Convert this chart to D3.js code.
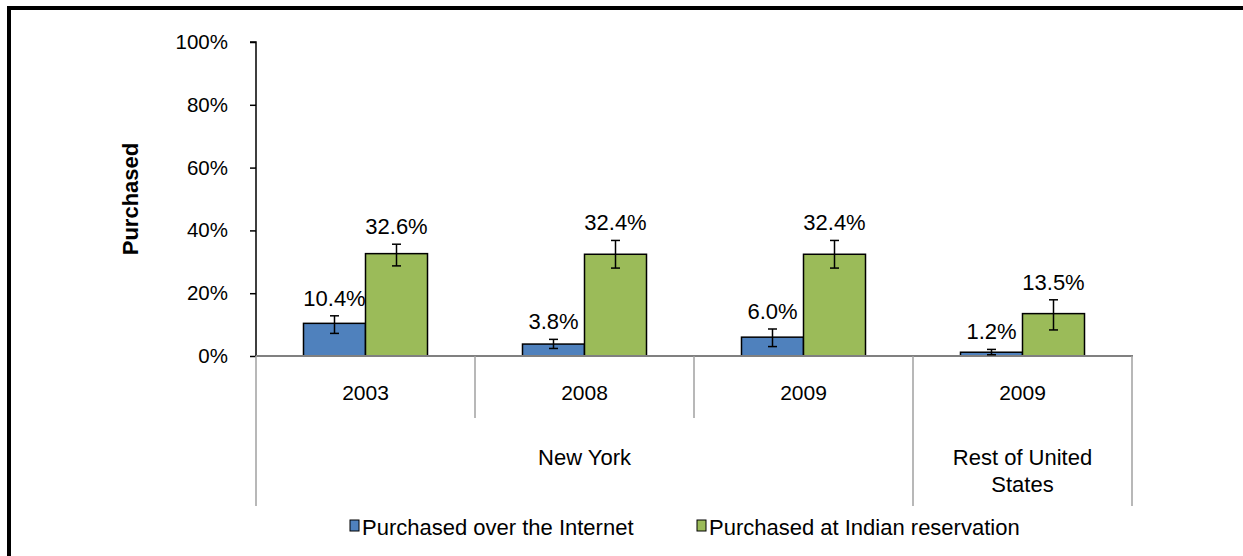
<!DOCTYPE html>
<html><head><meta charset="utf-8">
<script src="https://cdn.jsdelivr.net/npm/d3@7"></script>
<style>
html,body{margin:0;padding:0;background:#fff;}
svg{display:block;font-family:"Liberation Sans",Arial,sans-serif;}
</style></head>
<body>
<svg id="chart" width="1243" height="556"></svg>
<script>
// ---- data ----
const categories = ["2003", "2008", "2009", "2009"];
const regions = ["New York", "Rest of United States"];
const regionSpans = [3, 1];
const seriesNames = ["Purchased over the Internet", "Purchased at Indian reservation"];
const internet = [10.4, 3.8, 6.0, 1.2];
const internetLow = [7.2, 2.4, 3.0, 0.4];
const internetHigh = [12.8, 5.3, 8.6, 2.1];
const reservation = [32.6, 32.4, 32.4, 13.5];
const reservationLow = [28.7, 28.0, 28.0, 8.3];
const reservationHigh = [35.6, 36.8, 36.8, 17.9];
const yTicks = [0, 20, 40, 60, 80, 100];

(function () {
const colors = ["#4F81BD", "#9BBB59"];
const svg = d3.select("#chart");

// frame
svg.append("rect").attr("x", 9).attr("y", 8).attr("width", 1300).attr("height", 600)
  .attr("fill", "none").attr("stroke", "#000").attr("stroke-width", 4);

const pLeft = 256, pRight = 1132, pTop = 42, base = 356;
const x0 = d3.scaleBand().domain(d3.range(categories.length)).range([pLeft, pRight]).padding(0);
const x1 = d3.scaleBand().domain([0, 1]).range([0, x0.bandwidth()]).paddingInner(0).paddingOuter(0.766);
const y = d3.scaleLinear().domain([0, 100]).range([base, pTop]);

// y axis
const yAxis = d3.axisLeft(y).tickValues(yTicks).tickSize(6).tickPadding(22).tickFormat(d => d + "%");
const ya = svg.append("g").attr("transform", `translate(${pLeft},0)`).call(yAxis);
ya.select(".domain").attr("stroke", "#000").attr("stroke-width", 1.5).attr("d", `M-6,${pTop}H0V${base}`);
ya.selectAll(".tick line").attr("stroke", "#000").attr("stroke-width", 1.5);
ya.selectAll(".tick text").attr("font-size", 20.5).attr("fill", "#000").attr("font-family", "Liberation Sans, Arial, sans-serif");

// y title
svg.append("text").attr("transform", `translate(138,${(pTop + base) / 2}) rotate(-90)`)
  .attr("text-anchor", "middle").attr("font-weight", "bold").attr("font-size", 22).text("Purchased");

// bars
const series = [
  { vals: internet, lo: internetLow, hi: internetHigh },
  { vals: reservation, lo: reservationLow, hi: reservationHigh }
];
series.forEach((s, si) => {
  const g = svg.append("g");
  g.selectAll("rect").data(s.vals).join("rect")
    .attr("x", (d, i) => x0(i) + x1(si))
    .attr("y", d => y(d))
    .attr("width", x1.bandwidth())
    .attr("height", d => base - y(d))
    .attr("fill", colors[si]).attr("stroke", "#000").attr("stroke-width", 1.5);
});

// baseline
svg.append("line").attr("x1", pLeft).attr("x2", pRight + 1).attr("y1", base).attr("y2", base)
  .attr("stroke", "#808080").attr("stroke-width", 2);

// error bars and labels
series.forEach((s, si) => {
  const g = svg.append("g");
  s.vals.forEach((v, i) => {
    const cx = x0(i) + x1(si) + x1.bandwidth() / 2;
    g.append("line").attr("x1", cx).attr("x2", cx).attr("y1", y(s.lo[i])).attr("y2", y(s.hi[i]))
      .attr("stroke", "#000").attr("stroke-width", 1.5);
    [s.lo[i], s.hi[i]].forEach(e => {
      g.append("line").attr("x1", cx - 4.5).attr("x2", cx + 4.5).attr("y1", y(e)).attr("y2", y(e))
        .attr("stroke", "#000").attr("stroke-width", 1.5);
    });
    g.append("text").attr("x", cx).attr("y", y(s.hi[i]) - 10).attr("text-anchor", "middle")
      .attr("font-size", 22).attr("fill", "#000").text(v.toFixed(1) + "%");
  });
});

// dividers
const catEdges = d3.range(categories.length + 1).map(i => i < categories.length ? x0(i) : pRight);
let cum = 0;
const longEdges = new Set([0]);
regionSpans.forEach(sp => { cum += sp; longEdges.add(cum); });
catEdges.forEach((xe, i) => {
  svg.append("line").attr("x1", xe).attr("x2", xe).attr("y1", base)
    .attr("y2", longEdges.has(i) ? 506 : 418)
    .attr("stroke", "#A0A0A0").attr("stroke-width", 1.5);
});

// category labels
svg.append("g").selectAll("text").data(categories).join("text")
  .attr("x", (d, i) => x0(i) + x0.bandwidth() / 2).attr("y", 400)
  .attr("text-anchor", "middle").attr("font-size", 21).text(d => d);

// region labels
cum = 0;
regions.forEach((r, ri) => {
  const xs = x0(cum);
  cum += regionSpans[ri];
  const xe = cum < categories.length ? x0(cum) : pRight;
  const cx = (xs + xe) / 2;
  const t = svg.append("text").attr("text-anchor", "middle").attr("font-size", 22);
  const lines = ri === 1 ? ["Rest of United", "States"] : [r];
  lines.forEach((ln, li) => t.append("tspan").attr("x", cx).attr("y", 465 + li * 27).text(ln));
});

// legend
const legendX = [350, 697];
seriesNames.forEach((n, i) => {
  svg.append("rect").attr("x", legendX[i]).attr("y", 520).attr("width", 9).attr("height", 11)
    .attr("fill", colors[i]).attr("stroke", "#000").attr("stroke-width", 1);
  svg.append("text").attr("x", legendX[i] + 12).attr("y", 535).attr("font-size", 22).text(n);
});
})();
</script>
</body></html>
